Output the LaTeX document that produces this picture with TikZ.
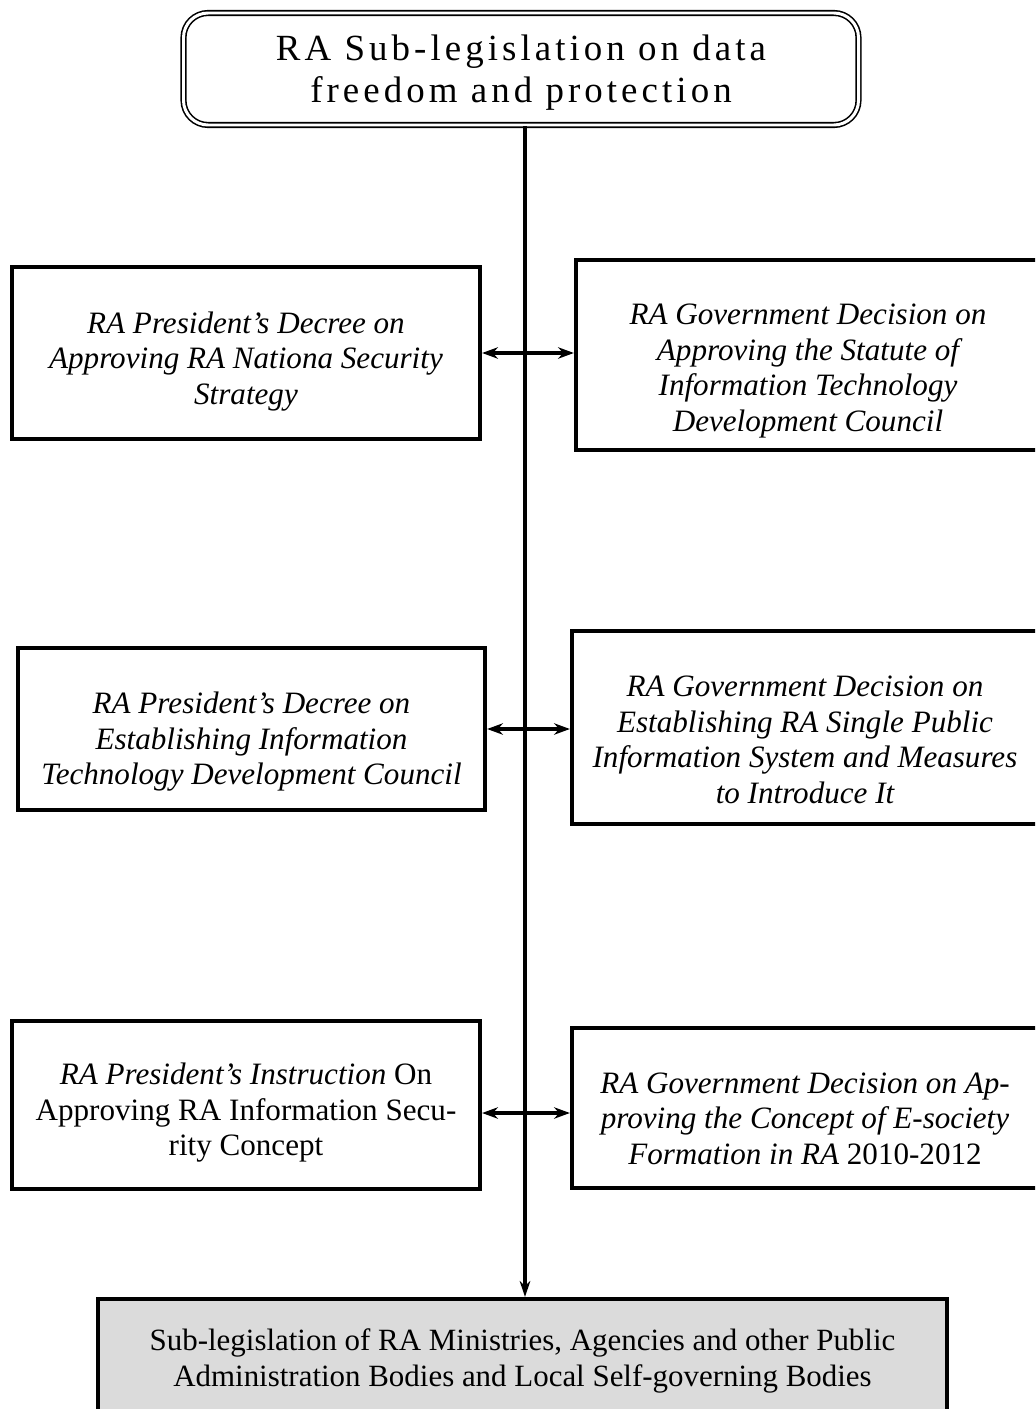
\documentclass[tikz,border=0pt]{standalone}
\usepackage{fontspec}
\setmainfont{Liberation Serif}
\usepackage{tikz}
\usetikzlibrary{arrows.meta,positioning,calc}

% pushes the lines of a box a little lower
\newcommand{\dropstrut}[1]{\rule{0pt}{#1}}

\begin{document}
\begin{tikzpicture}[
    box/.style={rectangle, draw, line width=2.4pt, align=center, inner sep=2pt,
                font=\fontsize{17.7}{20.2}\selectfont\itshape},
    topbox/.style={rectangle, draw, rounded corners=14pt, double, line width=0.9pt,
                   double distance=1.7pt, align=center,
                   font=\fontsize{21}{23.8}\selectfont\addfontfeature{LetterSpace=11}},
    basebox/.style={rectangle, draw, line width=2.4pt, fill=black!14, align=center,
                    font=\fontsize{17.6}{20.4}\selectfont},
    arr/.style={-{Stealth[length=9pt, width=6pt]}, line width=2.2pt},
    harr/.style={{Stealth[length=9pt, width=6.5pt]}-{Stealth[length=9pt, width=6.5pt]}, line width=1.8pt},
  ]

  \useasboundingbox (0,0) rectangle (20.7,-28.18);
  \clip (0,0) rectangle (20.7,-28.18);

  % Top
  \node[topbox, minimum width=13.5cm, minimum height=2.24cm] (top) at (10.42,-1.38)
    {\dropstrut{19pt}RA Sub-legislation on data\\freedom and protection};

  % Row 1
  \node[box, minimum width=9.36cm, minimum height=3.44cm] (pres1) at (4.92,-7.06)
    {\dropstrut{22pt}RA President's Decree on\\Approving RA Nationa Security\\Strategy};
  \node[box, minimum width=9.28cm, minimum height=3.8cm] (gov1) at (16.16,-7.10)
    {\dropstrut{30pt}RA Government Decision on\\Approving the Statute of\\Information Technology\\Development Council};

  % Row 2
  \node[box, minimum width=9.34cm, minimum height=3.24cm] (pres2) at (5.03,-14.58)
    {\dropstrut{27pt}RA President's Decree on\\Establishing Information\\Technology Development Council};
  \node[box, minimum width=9.32cm, minimum height=3.86cm] (gov2) at (16.10,-14.55)
    {\dropstrut{26pt}RA Government Decision on\\Establishing RA Single Public\\Information System and Measures\\to Introduce It};

  % Row 3
  \node[box, minimum width=9.36cm, minimum height=3.36cm] (pres3) at (4.92,-22.10)
    {\dropstrut{21pt}RA President's Instruction \upshape On\\\upshape Approving RA Information Secu-\\\upshape rity Concept};
  \node[box, minimum width=9.32cm, minimum height=3.2cm] (gov3) at (16.10,-22.16)
    {\dropstrut{24pt}RA Government Decision on Ap-\\proving the Concept of E-society\\Formation in RA \upshape 2010-2012};

  % Bottom
  \node[basebox, minimum width=16.98cm, minimum height=2.32cm] (base) at (10.45,-27.14)
    {\dropstrut{17pt}Sub-legislation of RA Ministries, Agencies and other Public\\Administration Bodies and Local Self-governing Bodies};

  % Spine
  \coordinate (spine) at (10.5,0);
  \draw[arr] (top.south -| spine) -- (base.north -| spine);

  \draw[harr] (pres1.east) -- (pres1.east -| gov1.west);
  \draw[harr] (pres2.east) -- (pres2.east -| gov2.west);
  \draw[harr] ($(pres3.east)+(0,-0.16)$) -- ($(pres3.east -| gov3.west)+(0,-0.16)$);

\end{tikzpicture}
\end{document}
